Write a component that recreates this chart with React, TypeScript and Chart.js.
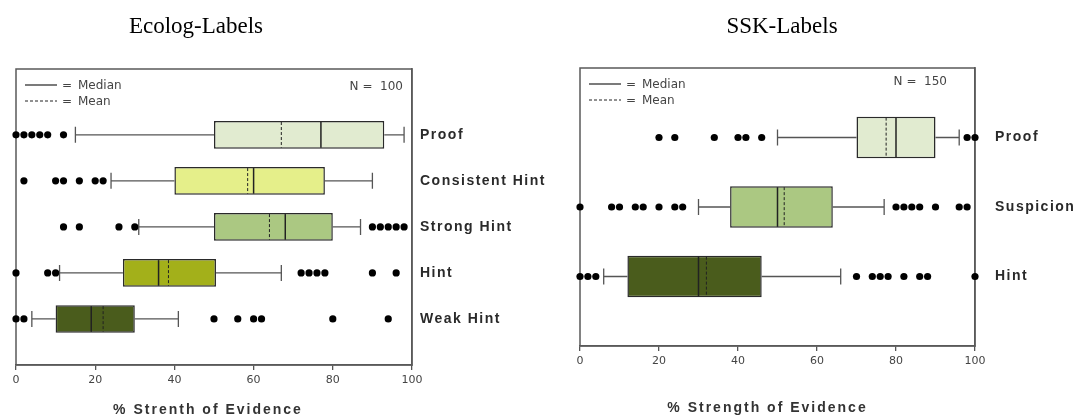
import React, { useEffect, useRef } from 'react';
import { Chart, registerables } from 'chart.js';

Chart.register(...registerables);

// ---------- Ecolog-Labels (left) ----------
const ecologCategories = ['Proof', 'Consistent Hint', 'Strong Hint', 'Hint', 'Weak Hint'];
const ecologLow = [15, 24, 31, 11, 4];
const ecologQ1 = [50, 40, 50, 27, 10];
const ecologMedian = [77, 60, 68, 36, 19];
const ecologMean = [67, 58.5, 64, 38.5, 22];
const ecologQ3 = [93, 78, 80, 50.5, 30];
const ecologHigh = [98, 90, 87, 67, 41];
const ecologOutliers = [
  [0, 2, 4, 6, 8, 12],
  [2, 10, 12, 16, 20, 22],
  [12, 16, 26, 30, 90, 92, 94, 96, 98],
  [0, 8, 10, 72, 74, 76, 78, 90, 96],
  [0, 2, 50, 56, 60, 62, 80, 94],
];
const ecologColors = ['#e1ebd0', '#e5ef8a', '#abc882', '#a3b01a', '#4a5c1c'];
const ecologN = 100;

// ---------- SSK-Labels (right) ----------
const sskCategories = ['Proof', 'Suspicion', 'Hint'];
const sskLow = [50, 30, 6];
const sskQ1 = [70, 38, 12];
const sskMedian = [80, 50, 30];
const sskMean = [77.5, 51.7, 32];
const sskQ3 = [90, 64, 46];
const sskHigh = [96, 77, 66];
const sskOutliers = [
  [20, 24, 34, 40, 42, 46, 98, 100],
  [0, 8, 10, 14, 16, 20, 24, 26, 80, 82, 84, 86, 90, 96, 98],
  [0, 2, 4, 70, 74, 76, 78, 82, 86, 88, 100],
];
const sskColors = ['#e1ebd0', '#abc882', '#4a5c1c'];
const sskN = 150;

const xTickValues = [0, 20, 40, 60, 80, 100];

type Spec = {
  title: string;
  xTitle: string;
  categories: string[];
  low: number[];
  q1: number[];
  median: number[];
  mean: number[];
  q3: number[];
  high: number[];
  outliers: number[][];
  colors: string[];
  n: number;
  left: number;
  width: number;
  padLeft: number;
  padTop: number;
  yMin: number;
  yMax: number;
  yWidth: number;
  xHeight: number;
  labelPad: number;
  titleX: number;
  nDx: number;
  nDy: number;
  xTitleBottom: number;
  xTitleShift: number;
};

const specs: Spec[] = [
  {
    title: 'Ecolog-Labels',
    xTitle: '% Strenth of Evidence',
    categories: ecologCategories,
    low: ecologLow,
    q1: ecologQ1,
    median: ecologMedian,
    mean: ecologMean,
    q3: ecologQ3,
    high: ecologHigh,
    outliers: ecologOutliers,
    colors: ecologColors,
    n: ecologN,
    left: 0,
    width: 560,
    padLeft: 16,
    padTop: 69,
    yMin: -1.43,
    yMax: 5.0,
    yWidth: 148,
    xHeight: 54,
    labelPad: 8,
    titleX: 196,
    nDx: -9,
    nDy: 18,
    xTitleBottom: 0,
    xTitleShift: -6,
  },
  {
    title: 'SSK-Labels',
    xTitle: '% Strength of Evidence',
    categories: sskCategories,
    low: sskLow,
    q1: sskQ1,
    median: sskMedian,
    mean: sskMean,
    q3: sskQ3,
    high: sskHigh,
    outliers: sskOutliers,
    colors: sskColors,
    n: sskN,
    left: 560,
    width: 516,
    padLeft: 20,
    padTop: 68,
    yMin: -1,
    yMax: 3,
    yWidth: 101,
    xHeight: 73,
    labelPad: 20,
    titleX: 222,
    nDx: -28,
    nDy: 14,
    xTitleBottom: 2,
    xTitleShift: -10,
  },
];

function makeDetailPlugin(spec: Spec) {
  return {
    id: 'boxDetails',
    beforeDraw(chart: any) {
      const ys: any = chart.scales.y;
      const xs: any = chart.scales.x;
      if (ys && !ys.__spaced) {
        const orig = ys.drawLabels;
        ys.drawLabels = function (a: any) {
          const c: any = this.ctx;
          c.save();
          c.letterSpacing = '1.5px';
          orig.call(this, a);
          c.restore();
        };
        ys.__spaced = true;
      }
      if (xs && !xs.__spaced) {
        const origT = xs.drawTitle;
        xs.drawTitle = function () {
          const c: any = this.ctx;
          c.save();
          c.translate(spec.xTitleShift, 0);
          c.letterSpacing = '2px';
          origT.call(this);
          c.restore();
        };
        xs.__spaced = true;
      }
    },
    beforeDatasetsDraw(chart: any) {
      const { ctx, chartArea: a } = chart;
      const x = chart.scales.x;
      const y = chart.scales.y;
      ctx.save();
      ctx.strokeStyle = '#5a5a5a';
      ctx.lineWidth = 1.5;
      ctx.strokeRect(a.left, a.top, a.right - a.left, a.bottom - a.top);
      ctx.strokeStyle = '#555';
      ctx.lineWidth = 1.3;
      const cap = 16;
      spec.categories.forEach((_, i) => {
        const py = y.getPixelForValue(i);
        const xl = x.getPixelForValue(spec.low[i]);
        const x1 = x.getPixelForValue(spec.q1[i]);
        const x3 = x.getPixelForValue(spec.q3[i]);
        const xh = x.getPixelForValue(spec.high[i]);
        ctx.beginPath();
        ctx.moveTo(xl, py);
        ctx.lineTo(x1, py);
        ctx.moveTo(x3, py);
        ctx.lineTo(xh, py);
        ctx.moveTo(xl, py - cap / 2);
        ctx.lineTo(xl, py + cap / 2);
        ctx.moveTo(xh, py - cap / 2);
        ctx.lineTo(xh, py + cap / 2);
        ctx.stroke();
      });
      ctx.restore();
    },
    afterDatasetsDraw(chart: any) {
      const { ctx } = chart;
      const x = chart.scales.x;
      const meta = chart.getDatasetMeta(0);
      ctx.save();
      spec.categories.forEach((_, i) => {
        const el: any = meta.data[i];
        if (!el) return;
        const top = el.y - el.height / 2 + 1;
        const bottom = el.y + el.height / 2 - 1;
        const xm = x.getPixelForValue(spec.median[i]);
        const xa = x.getPixelForValue(spec.mean[i]);
        ctx.strokeStyle = '#222';
        ctx.setLineDash([]);
        ctx.lineWidth = 1.5;
        ctx.beginPath();
        ctx.moveTo(xm, top);
        ctx.lineTo(xm, bottom);
        ctx.stroke();
        ctx.setLineDash([3, 2]);
        ctx.lineWidth = 1;
        ctx.beginPath();
        ctx.moveTo(xa, top);
        ctx.lineTo(xa, bottom);
        ctx.stroke();
      });
      ctx.restore();
    },
    afterDraw(chart: any) {
      const { ctx, chartArea: a } = chart;
      ctx.save();
      // chart title
      ctx.fillStyle = '#000';
      ctx.font = '23px "Liberation Serif", "Times New Roman", serif';
      ctx.textAlign = 'center';
      ctx.textBaseline = 'middle';
      ctx.fillText(spec.title, spec.titleX, 27);
      // legend
      const lx0 = a.left + 9;
      const lx1 = a.left + 41;
      const y1 = a.top + 16;
      const y2 = a.top + 32;
      ctx.strokeStyle = '#222';
      ctx.lineWidth = 1.2;
      ctx.setLineDash([]);
      ctx.beginPath();
      ctx.moveTo(lx0, y1);
      ctx.lineTo(lx1, y1);
      ctx.stroke();
      ctx.lineWidth = 1;
      ctx.setLineDash([3, 2]);
      ctx.beginPath();
      ctx.moveTo(lx0, y2);
      ctx.lineTo(lx1, y2);
      ctx.stroke();
      ctx.setLineDash([]);
      ctx.fillStyle = '#444';
      ctx.font = '12px "DejaVu Sans", sans-serif';
      ctx.textAlign = 'left';
      ctx.fillText('=', a.left + 46, y1 + 1);
      ctx.fillText('Median', a.left + 62, y1 + 1);
      ctx.fillText('=', a.left + 46, y2 + 1);
      ctx.fillText('Mean', a.left + 62, y2 + 1);
      ctx.textAlign = 'right';
      ctx.fillText('N =  ' + spec.n, a.right + spec.nDx, a.top + spec.nDy);
      ctx.restore();
    },
  };
}

function BoxChart({ spec }: { spec: Spec }) {
  const ref = useRef<HTMLCanvasElement>(null);
  useEffect(() => {
    if (!ref.current) return;
    const barData = spec.categories.map((_, i) => ({ x: [spec.q1[i], spec.q3[i]], y: i }));
    const outlierData = spec.outliers.flatMap((arr, i) => arr.map((v) => ({ x: v, y: i })));
    const chart = new Chart(ref.current, {
      type: 'bar',
      data: {
        datasets: [
          {
            type: 'bar',
            data: barData as any,
            backgroundColor: spec.colors,
            borderColor: '#2a2a2a',
            borderWidth: 1.5,
            borderSkipped: false,
            barPercentage: 0.6,
            categoryPercentage: 1,
          } as any,
          {
            type: 'scatter',
            data: outlierData as any,
            pointRadius: 3.6,
            pointBackgroundColor: '#000',
            pointBorderWidth: 0,
            showLine: false,
            clip: false,
          } as any,
        ],
      },
      options: {
        indexAxis: 'y',
        responsive: false,
        animation: false,
        events: [],
        layout: { padding: { left: spec.padLeft, top: spec.padTop, right: 0, bottom: 0 } },
        plugins: {
          legend: { display: false },
          tooltip: { enabled: false },
          title: { display: false },
        },
        scales: {
          x: {
            type: 'linear',
            position: 'bottom',
            offset: false,
            min: 0,
            max: 100,
            afterBuildTicks: (scale: any) => {
              scale.ticks = xTickValues.map((v) => ({ value: v }));
            },
            afterFit: (scale: any) => {
              scale.height = spec.xHeight;
            },
            ticks: {
              color: '#444',
              padding: 4,
              font: { family: 'DejaVu Sans', size: 11 },
            },
            grid: {
              display: true,
              offset: false,
              drawOnChartArea: false,
              drawTicks: true,
              tickLength: 5,
              color: '#555',
              lineWidth: 1.3,
            },
            border: { display: true, color: '#5a5a5a', width: 1.5 },
            title: {
              display: true,
              text: spec.xTitle,
              color: '#333',
              font: { family: 'Liberation Sans', size: 14, weight: 'bold' },
              padding: { top: 0, bottom: spec.xTitleBottom },
            },
          },
          y: {
            type: 'linear',
            position: 'right',
            reverse: true,
            offset: false,
            min: spec.yMin,
            max: spec.yMax,
            afterBuildTicks: (scale: any) => {
              scale.ticks = spec.categories.map((_, i) => ({ value: i }));
            },
            afterFit: (scale: any) => {
              scale.width = spec.yWidth;
            },
            ticks: {
              color: '#2a2a2a',
              padding: spec.labelPad,
              font: { family: 'Liberation Sans', size: 14, weight: 'bold' },
              callback: (v: any) => spec.categories[v as number] ?? '',
            },
            grid: { display: false, offset: false, drawTicks: false },
            border: { display: true, color: '#5a5a5a', width: 1.5 },
          },
        },
      } as any,
      plugins: [makeDetailPlugin(spec)],
    });
    return () => chart.destroy();
  }, [spec]);
  return (
    <canvas
      ref={ref}
      width={spec.width}
      height={419}
      style={{ position: 'absolute', left: spec.left, top: 0, width: spec.width, height: 419 }}
    />
  );
}

export default function App() {
  return (
    <div style={{ position: 'absolute', left: 0, top: 0, width: 1076, height: 419, background: '#fff' }}>
      {specs.map((s) => (
        <BoxChart key={s.title} spec={s} />
      ))}
    </div>
  );
}
